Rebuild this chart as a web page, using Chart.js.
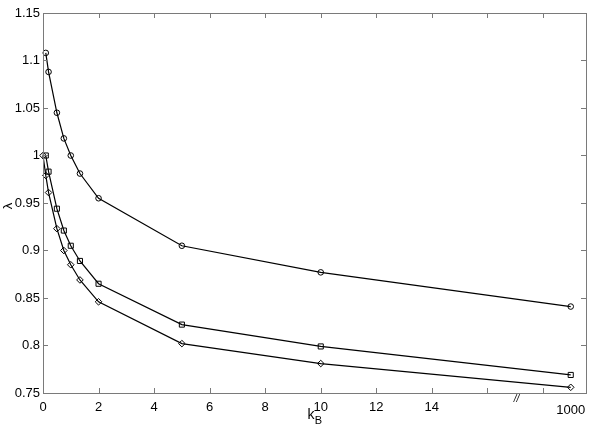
<!DOCTYPE html>
<html>
<head>
<meta charset="utf-8">
<script src="https://cdn.jsdelivr.net/npm/chart.js@4/dist/chart.umd.min.js"></script>
<style>
  html, body { margin: 0; padding: 0; background: #fff; }
  #wrap { width: 600px; height: 429px; }
</style>
</head>
<body>
<div id="wrap"><canvas id="myChart"></canvas></div>
<script>
// kB = 1000 is drawn at axis position 19 (broken axis, "//")
const xCircle  = [0.1, 0.2, 0.5, 0.75, 1, 1.33, 2, 5, 10, 19]
const yCircle  = [1.108, 1.088, 1.045, 1.018, 1.0, 0.981, 0.955, 0.905, 0.877, 0.841]
const xSquare  = [0.1, 0.2, 0.5, 0.75, 1, 1.33, 2, 5, 10, 19]
const ySquare  = [1.0, 0.983, 0.944, 0.921, 0.905, 0.889, 0.865, 0.822, 0.799, 0.769]
const xDiamond = [0, 0.1, 0.2, 0.5, 0.75, 1, 1.33, 2, 5, 10, 19]
const yDiamond = [1.0, 0.979, 0.961, 0.923, 0.900, 0.885, 0.869, 0.846, 0.802, 0.781, 0.756]
const xTicks = [0, 2, 4, 6, 8, 10, 12, 14, 16, 18]
const xTickLabels = ['0', '2', '4', '6', '8', '10', '12', '14', '', '']
const yTicks = [0.75, 0.8, 0.85, 0.9, 0.95, 1, 1.05, 1.1, 1.15]
const yTickLabels = ['0.75', '0.8', '0.85', '0.9', '0.95', '1', '1.05', '1.1', '1.15']

const FONT = 'Liberation Sans, Arial, sans-serif'
const AXIS_COLOR = '#7a7a7a'

function pts(xs, ys) {
    let out = []
    for(let i=0;i<xs.length;i++) out.push({x: xs[i], y: ys[i]})
    return out
}

function series(xs, ys, style, r) {
    return {
        data: pts(xs, ys),
        showLine: true,
        borderColor: '#000',
        borderWidth: 1.2,
        pointStyle: style,
        pointRadius: r,
        pointBorderColor: '#000',
        pointBackgroundColor: 'rgba(255,255,255,0)',
        pointBorderWidth: 1,
        clip: false,
        tension: 0
    }
}

// matlab style inward ticks, box, and extra text
const boxPlugin = {
    id: 'boxPlugin',
    afterDraw(chart) {
        const ctx = chart.ctx
        const a = chart.chartArea
        const xs = chart.scales.x
        const ys = chart.scales.y
        ctx.save()
        ctx.strokeStyle = AXIS_COLOR
        ctx.lineWidth = 1
        ctx.strokeRect(a.left + 0.5, a.top + 0.5, a.right - a.left, a.bottom - a.top)
        ctx.beginPath()
        xTicks.forEach(v => {
            let p = Math.round(xs.getPixelForValue(v)) + 0.5
            ctx.moveTo(p, a.bottom); ctx.lineTo(p, a.bottom - 5)
            ctx.moveTo(p, a.top); ctx.lineTo(p, a.top + 5)
        })
        yTicks.forEach(v => {
            let p = Math.round(ys.getPixelForValue(v)) + 0.5
            ctx.moveTo(a.left, p); ctx.lineTo(a.left + 5, p)
            ctx.moveTo(a.right, p); ctx.lineTo(a.right - 5, p)
        })
        ctx.stroke()

        ctx.fillStyle = '#000'
        ctx.font = '13px ' + FONT
        ctx.textAlign = 'center'
        ctx.textBaseline = 'middle'
        ctx.fillText('1000', xs.getPixelForValue(19), 410)
        ctx.font = 'italic 10px ' + FONT
        ctx.fillText('//', xs.getPixelForValue(17.05), 399)

        // x title k_B
        ctx.font = '14px ' + FONT
        ctx.fillText('k', 311, 415)
        ctx.font = '11px ' + FONT
        ctx.fillText('B', 318.5, 421)

        // y title lambda
        ctx.translate(8, 206)
        ctx.rotate(-Math.PI / 2)
        ctx.font = '13px ' + FONT
        ctx.fillText('\u03bb', 0, 0)
        ctx.restore()
    }
}

const ctx = document.getElementById('myChart')

new Chart(ctx, {
    type: 'scatter',
    data: {
        datasets: [
            series(xCircle, yCircle, 'circle', 2.8),
            series(xSquare, ySquare, 'rect', 3.6),
            series(xDiamond, yDiamond, 'rectRot', 3.3)
        ]
    },
    options: {
        responsive: true,
        maintainAspectRatio: false,
        animation: false,
        layout: { padding: { top: 13, right: 14, left: 0, bottom: 0 } },
        plugins: { legend: { display: false }, tooltip: { enabled: false } },
        scales: {
            x: {
                type: 'linear',
                min: 0,
                max: 19.55,
                afterBuildTicks: s => { s.ticks = xTicks.map(v => ({ value: v })) },
                afterFit: s => { s.height = 36 },
                grid: { display: false, drawTicks: false },
                border: { display: false },
                ticks: {
                    padding: 7,
                    color: '#000',
                    font: { family: FONT, size: 13 },
                    maxRotation: 0,
                    autoSkip: false,
                    callback: (v) => {
                        let i = xTicks.indexOf(v)
                        return i >= 0 ? xTickLabels[i] : ''
                    }
                }
            },
            y: {
                min: 0.75,
                max: 1.15,
                afterBuildTicks: s => { s.ticks = yTicks.map(v => ({ value: v })) },
                afterFit: s => { s.width = 43 },
                grid: { display: false, drawTicks: false },
                border: { display: false },
                ticks: {
                    padding: 3,
                    color: '#000',
                    font: { family: FONT, size: 13 },
                    autoSkip: false,
                    callback: (v) => {
                        let i = yTicks.findIndex(t => Math.abs(t - v) < 1e-9)
                        return i >= 0 ? yTickLabels[i] : ''
                    }
                }
            }
        }
    },
    plugins: [boxPlugin]
})
</script>
</body>
</html>
